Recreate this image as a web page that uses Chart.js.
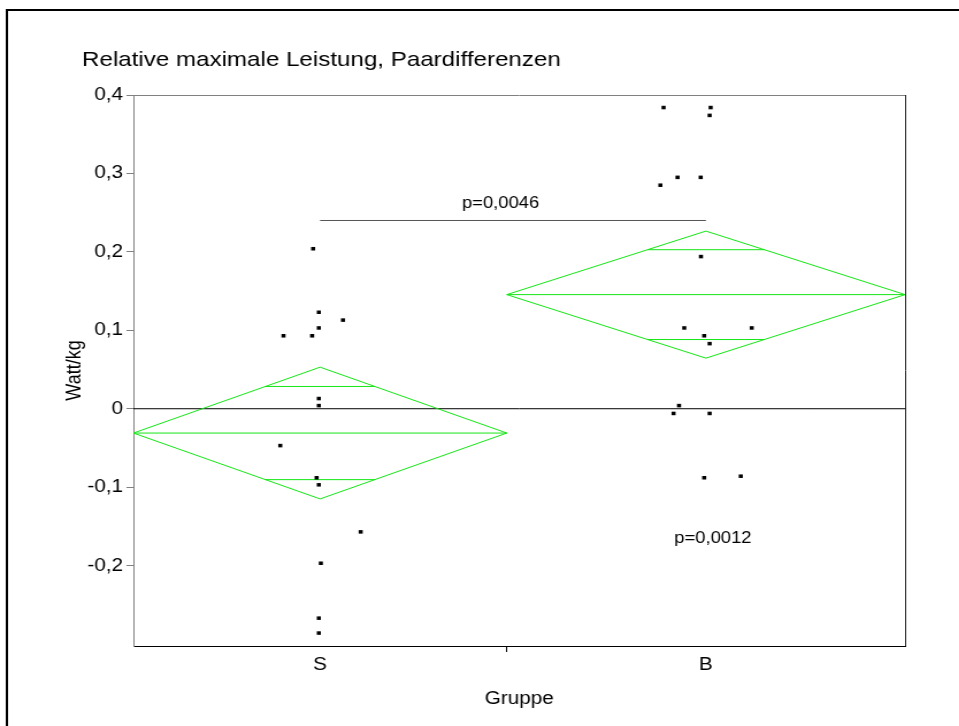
<!DOCTYPE html>
<html>
<head>
<meta charset="utf-8">
<script src="https://cdn.jsdelivr.net/npm/chart.js@4.4.1/dist/chart.umd.min.js"></script>
<style>
  html, body { margin: 0; padding: 0; background: #fff; overflow: hidden; }
  /* the chart is laid out narrow and widened horizontally, like the exported figure */
  #wrap { position: absolute; left: 0; top: 0; width: 834px; height: 726px;
          transform: scaleX(1.15); transform-origin: 0 0; }
</style>
</head>
<body>
<div id="wrap"><canvas id="c"></canvas></div>
<script>
// Paired differences of relative maximal power (Watt/kg) per group
const groups = ['S', 'B'];
const valuesS = [0.204, 0.123, 0.113, 0.093, 0.093, 0.103, 0.013, 0.004, -0.047, -0.088, -0.097, -0.157, -0.197, -0.267, -0.286];
const jitterS = [-0.28, -0.05, 0.92, -1.47, -0.32, -0.05, -0.05, -0.05, -1.60, -0.14, -0.05, 1.63, 0.03, -0.05, -0.05];
const valuesB = [0.384, 0.384, 0.374, 0.295, 0.295, 0.285, 0.194, 0.103, 0.103, 0.093, 0.083, 0.004, -0.006, -0.006, -0.088, -0.086];
const jitterB = [-1.70, 0.19, 0.15, -1.14, -0.21, -1.83, -0.20, -0.87, 1.84, -0.07, 0.15, -1.08, -1.30, 0.15, -0.07, 1.40];

// Means diamonds: group mean and 95% confidence half-width
const groupMeans = [-0.031, 0.1455];
const groupCI = [0.084, 0.081];

const yTickValues = [-0.2, -0.1, 0, 0.1, 0.2, 0.3, 0.4];
const chartTitle = 'Relative maximale Leistung, Paardifferenzen';
const pBetween = 'p=0,0046';
const pWithinB = 'p=0,0012';
const pBarLevel = 0.24;

const FONT = '"Liberation Sans", Arial, Helvetica, sans-serif';
const GREEN = 'rgb(20,230,20)';

// group widths on the x axis are proportional to group size
const counts = [valuesS.length, valuesB.length];
const starts = [0, counts[0]];
const ends = [counts[0], counts[0] + counts[1]];
const centers = starts.map((s, i) => (s + ends[i]) / 2);
const total = ends[1];

function points(values, jitter, g) {
  return values.map((v, i) => ({ x: centers[g] + jitter[i], y: v }));
}
function diamond(g) {
  const m = groupMeans[g], c = groupCI[g];
  return [{ x: starts[g], y: m }, { x: centers[g], y: m + c }, { x: ends[g], y: m },
          { x: centers[g], y: m - c }, { x: starts[g], y: m }];
}
function meanLine(g) {
  return [{ x: starts[g], y: groupMeans[g] }, { x: ends[g], y: groupMeans[g] }];
}
function overlapMark(g, sign) {
  const half = (ends[g] - starts[g]) / 2 * (1 - Math.SQRT1_2);
  const y = groupMeans[g] + sign * groupCI[g] * Math.SQRT1_2;
  return [{ x: centers[g] - half, y }, { x: centers[g] + half, y }];
}
function lineSet(data, color) {
  return { data, showLine: true, borderColor: color, borderWidth: 1, pointRadius: 0, tension: 0, fill: false };
}
function pointSet(data) {
  return { data, showLine: false, pointStyle: 'rect', pointRadius: 2.5, pointHoverRadius: 2.5,
           backgroundColor: '#000', borderWidth: 0 };
}

const datasets = [
  pointSet(points(valuesS, jitterS, 0)),
  pointSet(points(valuesB, jitterB, 1)),
];
[0, 1].forEach(g => {
  datasets.push(lineSet(diamond(g), GREEN));
  datasets.push(lineSet(meanLine(g), GREEN));
  datasets.push(lineSet(overlapMark(g, 1), GREEN));
  datasets.push(lineSet(overlapMark(g, -1), GREEN));
});
datasets.push(lineSet([{ x: 0, y: 0 }, { x: total, y: 0 }], '#000'));
datasets.push(lineSet([{ x: centers[0], y: pBarLevel }, { x: centers[1], y: pBarLevel }], '#555'));

const annotations = [
  { text: pBetween, x: 14.75, y: 0.2554 },
  { text: pWithinB, x: 23.28, y: -0.171 },
];

const decorations = {
  id: 'decorations',
  beforeDraw(chart) {
    const ctx = chart.ctx;
    ctx.save();
    ctx.fillStyle = '#fff';
    ctx.fillRect(0, 0, chart.width, chart.height);
    ctx.restore();
  },
  afterDraw(chart) {
    const { ctx, chartArea: a, scales } = chart;
    ctx.save();
    // outer frame
    ctx.strokeStyle = '#000';
    ctx.lineWidth = 2;
    ctx.beginPath();
    ctx.moveTo(6, chart.height + 2);
    ctx.lineTo(6, 10);
    ctx.lineTo(chart.width + 2, 10);
    ctx.stroke();
    // top and right edges of the plot frame
    ctx.lineWidth = 1;
    ctx.strokeStyle = '#808080';
    ctx.beginPath();
    ctx.moveTo(a.left, a.top + 0.5);
    ctx.lineTo(a.right, a.top + 0.5);
    ctx.stroke();
    ctx.strokeStyle = '#222';
    ctx.beginPath();
    ctx.moveTo(a.right + 0.5, a.top);
    ctx.lineTo(a.right + 0.5, a.bottom);
    ctx.stroke();
    // title
    ctx.fillStyle = '#000';
    ctx.font = '21px ' + FONT;
    ctx.textAlign = 'left';
    ctx.textBaseline = 'alphabetic';
    ctx.fillText(chartTitle, 71.3, 65.5);
    // p-values
    ctx.font = '16px ' + FONT;
    ctx.textAlign = 'center';
    annotations.forEach(an => {
      ctx.fillText(an.text, scales.x.getPixelForValue(an.x), scales.y.getPixelForValue(an.y));
    });
    ctx.restore();
  }
};

const fmt = v => (Math.abs(v) < 1e-9 ? '0' : v.toFixed(1).replace('.', ','));

new Chart(document.getElementById('c'), {
  type: 'scatter',
  data: { datasets },
  plugins: [decorations],
  options: {
    responsive: true,
    maintainAspectRatio: false,
    animation: false,
    devicePixelRatio: 1,
    events: [],
    layout: { padding: { top: 95, right: 47, bottom: 0, left: 0 } },
    plugins: { legend: { display: false }, tooltip: { enabled: false }, title: { display: false } },
    scales: {
      x: {
        type: 'linear', position: 'bottom', min: 0, max: total,
        afterBuildTicks: s => { s.ticks = [centers[0], starts[1], centers[1]].map(v => ({ value: v })); },
        afterFit: s => { s.height = 80; },
        ticks: {
          autoSkip: false, maxRotation: 0, minRotation: 0, padding: 2, color: '#000',
          font: { family: FONT, size: 18 },
          callback: v => (v === centers[0] ? groups[0] : v === centers[1] ? groups[1] : '')
        },
        grid: {
          drawOnChartArea: false, drawTicks: true, tickLength: 6, tickWidth: 1,
          tickColor: c => (c.index === 1 ? '#000' : 'rgba(0,0,0,0)')
        },
        border: { color: '#000', width: 1 },
        title: { display: true, text: 'Gruppe', color: '#000', font: { family: FONT, size: 18 },
                 padding: { top: 0, bottom: 16 } }
      },
      y: {
        type: 'linear', position: 'left', min: -0.3025, max: 0.4,
        afterBuildTicks: s => { s.ticks = yTickValues.map(v => ({ value: v })); },
        afterFit: s => { s.width = 116; },
        ticks: { padding: 3, color: '#000', font: { family: FONT, size: 18 }, callback: v => fmt(v) },
        grid: { drawOnChartArea: false, drawTicks: true, tickLength: 6, tickColor: '#808080' },
        border: { color: '#808080', width: 1 },
        title: { display: true, text: 'Watt/kg', color: '#000', font: { family: FONT, size: 18 },
                 padding: { top: 54, bottom: 0 } }
      }
    }
  }
});
</script>
</body>
</html>
